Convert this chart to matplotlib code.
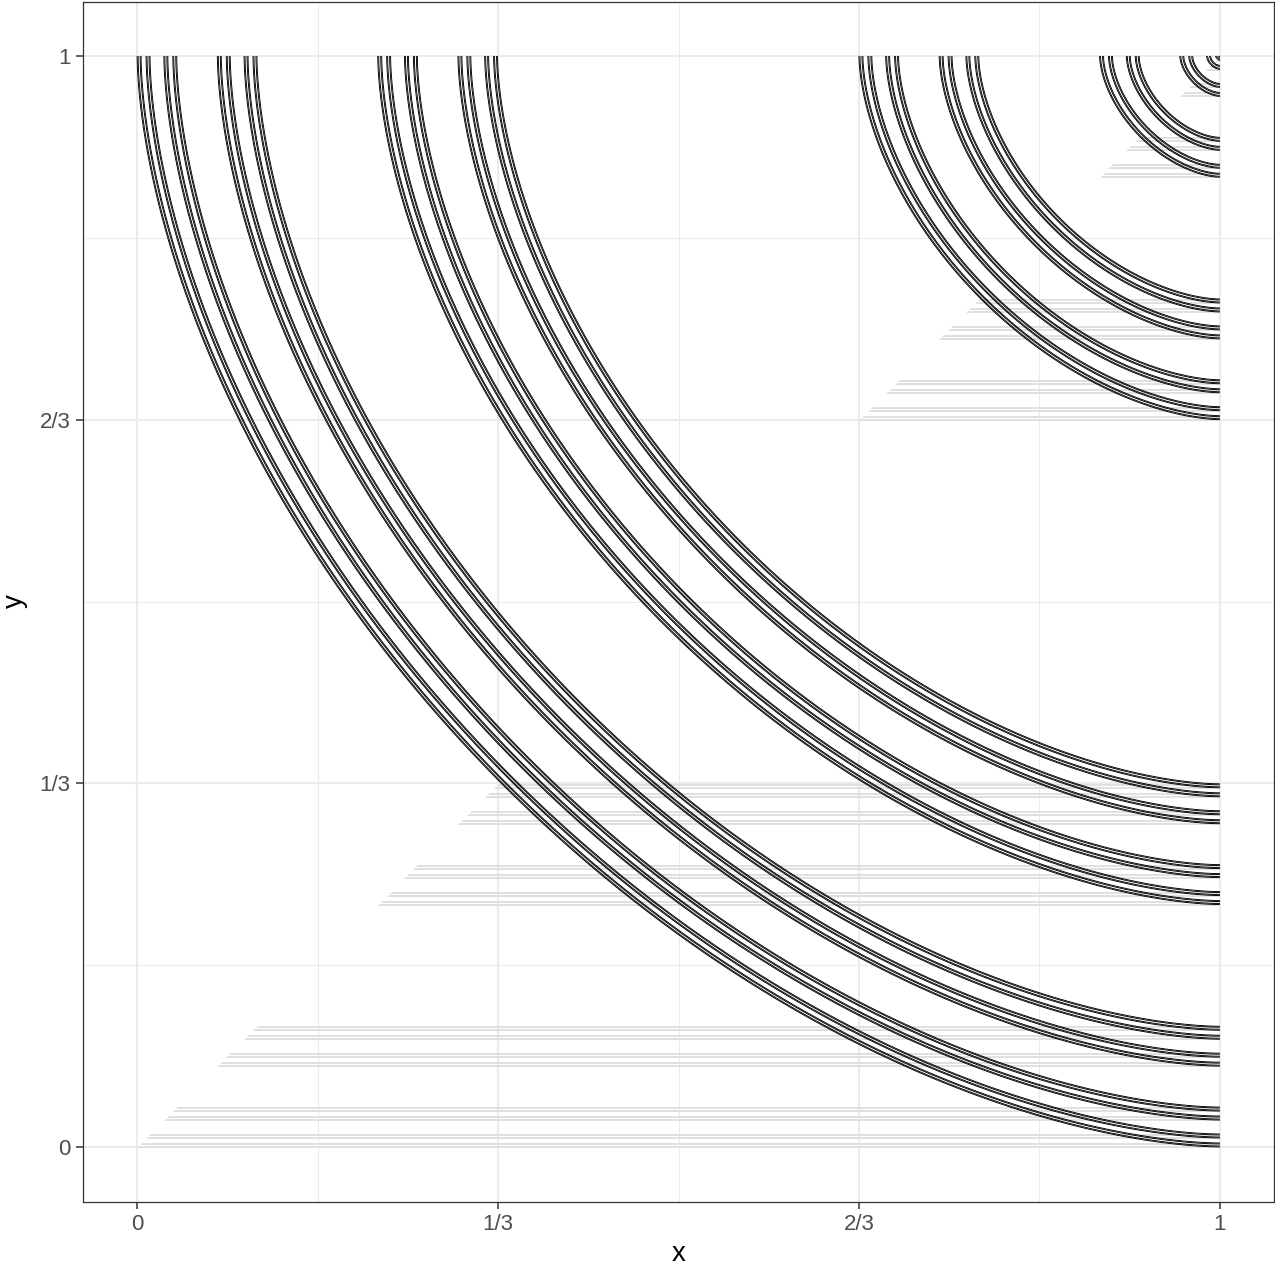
import numpy as np
import matplotlib.pyplot as plt

plt.rcParams['font.family'] = ['Liberation Sans', 'DejaVu Sans']

# copula parameter (crosses the diagonal near 0.335)
theta = 1.7

# contour levels: cantor points, coarse part in 1/243, fine part in 1/2187
cantor_base = [0, 2, 6, 8, 18, 20, 24, 26, 54, 56, 60, 62, 72, 74, 78, 80,
               162, 164, 168, 170, 180, 182, 186, 188, 216, 218, 222, 224,
               234, 236, 240, 242]
cantor_fine = [0, 2, 6, 8]

tick_vals = [0, 1/3, 2/3, 1]
tick_labels = ['0', '1/3', '2/3', '1']
minor_vals = [1/6, 1/2, 5/6]

levels = sorted(b / 243 + f / 2187 for b in cantor_base for f in cantor_fine)

grid = np.linspace(0, 1, 301)
X, Y = np.meshgrid(grid, grid)
Z = 1 - ((1 - X) ** theta + (1 - Y) ** theta) ** (1 / theta)

fig = plt.figure(figsize=(12.75, 12.78), dpi=100)
ax = fig.add_axes([83 / 1275, 1 - 1201.5 / 1278, 1191 / 1275, 1200 / 1278])

for v in minor_vals:
    ax.axvline(v, color='#ebebeb', lw=0.75, zorder=0)
    ax.axhline(v, color='#ebebeb', lw=0.75, zorder=0)
for v in tick_vals:
    ax.axvline(v, color='#ebebeb', lw=1.5, zorder=0)
    ax.axhline(v, color='#ebebeb', lw=1.5, zorder=0)

# faint horizontal segments from the diagonal out to x = 1
ax.hlines(levels, levels, 1, color='#e0e0e0', lw=0.7, zorder=1)

ax.contour(X, Y, Z, levels=levels, colors='black', linewidths=0.65, zorder=2)

ax.set_xlim(-0.05, 1.05)
ax.set_ylim(-0.05, 1.05)
ax.set_xticks(tick_vals)
ax.set_xticklabels(tick_labels)
ax.set_yticks(tick_vals)
ax.set_yticklabels(tick_labels)
ax.tick_params(length=5, width=1.1, color='#333333', labelcolor='#4d4d4d',
               labelsize=16, pad=4)
for s in ax.spines.values():
    s.set_color('#333333')
    s.set_linewidth(0.9)

ax.set_xlabel('x', fontsize=20, labelpad=4)
ax.set_ylabel('y', fontsize=20, labelpad=8)

fig.savefig('out.png', dpi=100)
